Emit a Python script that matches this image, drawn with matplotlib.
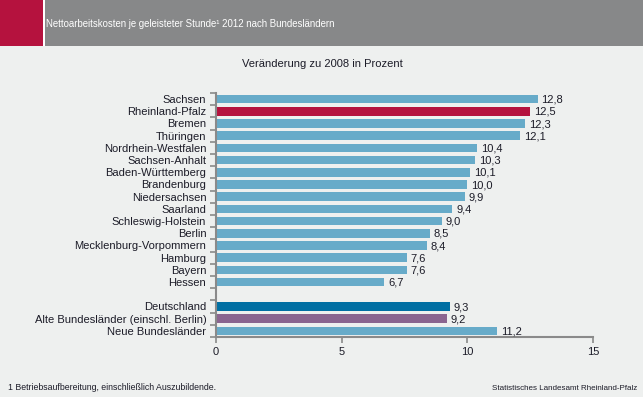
import numpy as np
import matplotlib.pyplot as plt
from matplotlib.patches import Rectangle

plt.rcParams['font.family'] = ['Liberation Sans', 'DejaVu Sans']

# Data
laender = ['Sachsen', 'Rheinland-Pfalz', 'Bremen', 'Thüringen', 'Nordrhein-Westfalen',
           'Sachsen-Anhalt', 'Baden-Württemberg', 'Brandenburg', 'Niedersachsen',
           'Saarland', 'Schleswig-Holstein', 'Berlin', 'Mecklenburg-Vorpommern',
           'Hamburg', 'Bayern', 'Hessen']
laender_werte = [12.8, 12.5, 12.3, 12.1, 10.4, 10.3, 10.1, 10.0, 9.9, 9.4, 9.0, 8.5, 8.4, 7.6, 7.6, 6.7]
gesamt = ['Deutschland', 'Alte Bundesländer (einschl. Berlin)', 'Neue Bundesländer']
gesamt_werte = [9.3, 9.2, 11.2]
x_ticks = [0, 5, 10, 15]

bg = '#eef0ef'
c_bar = '#67abc9'
c_rlp = '#b5123e'
c_de = '#006fa3'
c_alt = '#8a6590'
txt = '#1c1c28'

labels = laender + [''] + gesamt
values = laender_werte + [np.nan] + gesamt_werte
colors = [c_rlp if n == 'Rheinland-Pfalz' else c_bar for n in laender] + [bg, c_de, c_alt, c_bar]
y = np.arange(len(labels))

fig = plt.figure(figsize=(6.43, 3.97), dpi=100, facecolor=bg)

# header band
fig.patches.append(Rectangle((0, 1 - 46/397), 1, 46/397, transform=fig.transFigure,
                             facecolor='#878889', edgecolor='none', zorder=0))
fig.patches.append(Rectangle((0, 1 - 46/397), 43/643, 46/397, transform=fig.transFigure,
                             facecolor=c_rlp, edgecolor='none', zorder=1))
fig.patches.append(Rectangle((43/643, 1 - 46/397), 2/643, 46/397, transform=fig.transFigure,
                             facecolor='white', edgecolor='none', zorder=1))
fig.text(46/643, 1 - 24/397, 'Nettoarbeitskosten je geleisteter Stunde¹ 2012 nach Bundesländern',
         color='white', fontsize=6.9, va='center', ha='left')

ax = fig.add_axes([216/643, 1 - 337/397, (593 - 216)/643, (337 - 93)/397])
ax.set_facecolor(bg)

vals = np.nan_to_num(values)
ax.barh(y, vals, height=0.7, color=colors, zorder=2)
for yi, v in zip(y, values):
    if not np.isnan(v):
        ax.text(v + 0.15, yi + 0.05, f"{v:.1f}".replace('.', ','), va='center', ha='left',
                fontsize=8, color=txt)

ax.set_xlim(0, 15)
ax.set_ylim(len(labels) - 0.5, -0.5)
ax.set_xticks(x_ticks)
ax.set_xticklabels([str(t) for t in x_ticks], fontsize=8, color=txt)
ax.set_yticks(y)
ax.set_yticklabels(labels, fontsize=8, color=txt)
ax.tick_params(axis='y', length=0, pad=7)
ax.set_yticks(np.arange(len(labels) + 1) - 0.5, minor=True)
ax.tick_params(axis='y', which='minor', length=4, width=1.2, color='#8a8a8a')
ax.tick_params(axis='x', length=4, width=1.2, color='#8a8a8a', pad=3)

for s in ['top', 'right']:
    ax.spines[s].set_visible(False)
for s in ['left', 'bottom']:
    ax.spines[s].set_color('#8a8a8a')
    ax.spines[s].set_linewidth(1.5)

fig.text(322/643, 1 - 64/397, 'Veränderung zu 2008 in Prozent', fontsize=8, color=txt,
         ha='center', va='center')
fig.text(8/643, 1 - 388/397, '1 Betriebsaufbereitung, einschließlich Auszubildende.', fontsize=6.3,
         color=txt, ha='left', va='center')
fig.text(637/643, 1 - 388/397, 'Statistisches Landesamt Rheinland-Pfalz', fontsize=5.8,
         color=txt, ha='right', va='center')

fig.savefig('out.png', dpi=100, facecolor=bg)
